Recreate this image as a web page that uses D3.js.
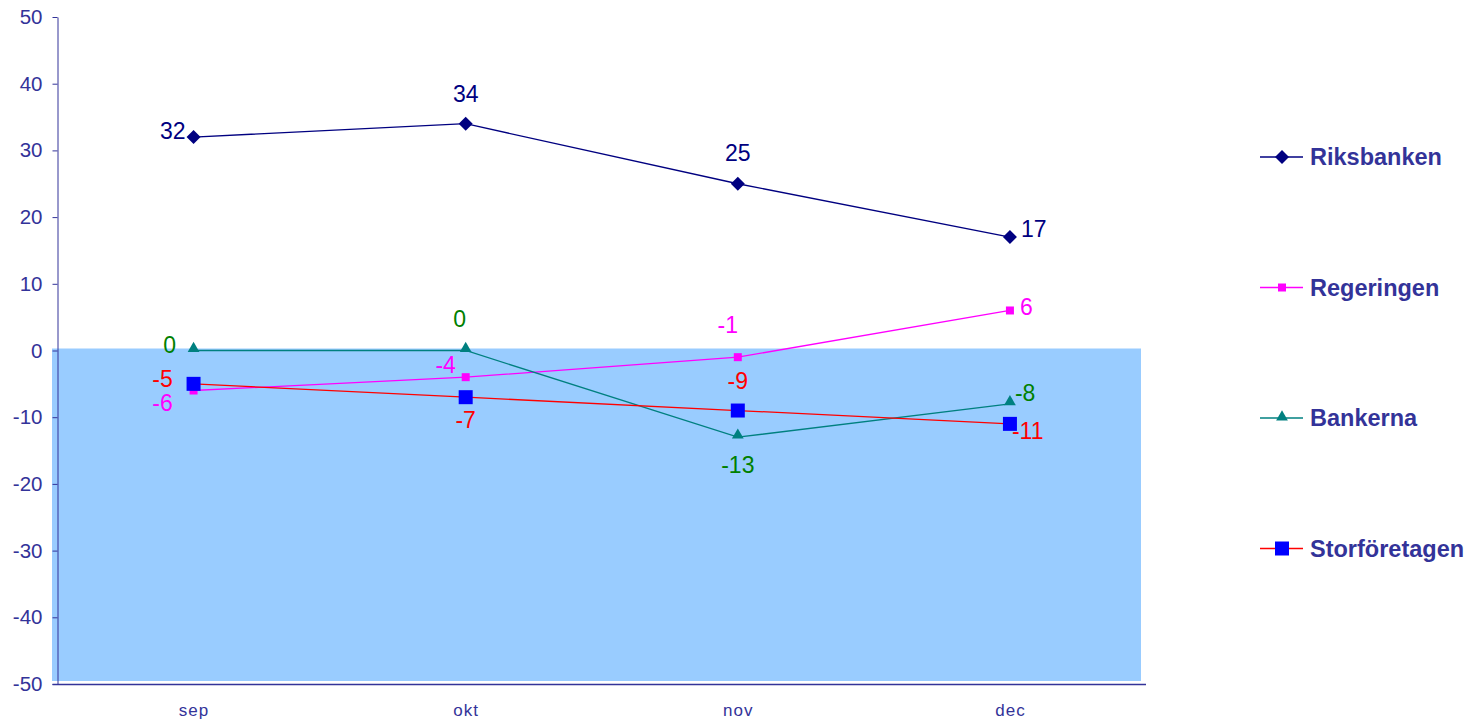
<!DOCTYPE html>
<html>
<head>
<meta charset="utf-8">
<script src="https://cdn.jsdelivr.net/npm/d3@7"></script>
<style>
  body { margin: 0; background: #fff; }
  svg { display: block; font-family: "Liberation Sans", Arial, sans-serif; }
</style>
</head>
<body>
<div id="chart"></div>
<script>
// data
var months = ['sep', 'okt', 'nov', 'dec'];
var seriesNames = ['Riksbanken', 'Regeringen', 'Bankerna', 'Storföretagen'];
var riksbanken = [32, 34, 25, 17];
var regeringen = [-6, -4, -1, 6];
var bankerna = [0, 0, -13, -8];
var storforetagen = [-5, -7, -9, -11];
var yTicks = [50, 40, 30, 20, 10, 0, -10, -20, -30, -40, -50];

(function () {
	'use strict';

	var width = 1469, height = 723;
	var plot = {left: 57.5, right: 1146, top: 17, bottom: 684};

	var svg = d3.select('#chart').append('svg')
		.attr('width', width)
		.attr('height', height);

	var x = d3.scalePoint().domain(months).range([plot.left, plot.right]).padding(0.5);
	var y = d3.scaleLinear().domain([-50, 50]).range([plot.bottom, plot.top]);

	var axisColor = '#333399';

	// shaded negative region
	svg.append('rect')
		.attr('x', plot.left - 5.5)
		.attr('y', y(0) - 2)
		.attr('width', plot.right - 5 - (plot.left - 5.5))
		.attr('height', y(-50) - 3 - (y(0) - 2))
		.attr('fill', '#99ccff');

	// y axis
	var yAxis = svg.append('g')
		.attr('transform', 'translate(' + plot.left + ',0)')
		.call(d3.axisLeft(y).tickValues(yTicks).tickFormat(String)
			.tickSize(5).tickPadding(10).tickSizeOuter(0));
	yAxis.select('.domain').attr('stroke', axisColor);
	yAxis.selectAll('.tick line').attr('stroke', axisColor);
	yAxis.selectAll('.tick text')
		.attr('fill', axisColor)
		.style('font-size', '20.5px');

	// x axis
	var xAxis = svg.append('g')
		.attr('transform', 'translate(0,' + plot.bottom + ')')
		.call(d3.axisBottom(x).tickSize(0).tickPadding(20));
	xAxis.select('.domain')
		.attr('d', 'M' + (plot.left - 5) + ',0.5H' + plot.right)
		.attr('stroke', axisColor)
		.attr('stroke-width', 1.5);
	xAxis.selectAll('.tick text')
		.attr('fill', axisColor)
		.style('font-size', '17px')
		.style('letter-spacing', '1px');

	var diamond = {
		draw: function (ctx, size) {
			var r = Math.sqrt(size / 2);
			ctx.moveTo(0, -r);
			ctx.lineTo(r, 0);
			ctx.lineTo(0, r);
			ctx.lineTo(-r, 0);
			ctx.closePath();
		}
	};

	var series = [
		{name: seriesNames[0], values: riksbanken, line: '#000080', fill: '#000080', label: '#000080',
			symbol: diamond, size: 98, lineWidth: 1.3,
			offsets: [[-8, -6, 'end'], [0, -30, 'middle'], [0, -31, 'middle'], [11, -8, 'start']]},
		{name: seriesNames[1], values: regeringen, line: '#ff00ff', fill: '#ff00ff', label: '#ff00ff',
			symbol: d3.symbolSquare, size: 64, lineWidth: 1.3,
			offsets: [[-31, 12, 'middle'], [-20, -12, 'middle'], [-10, -32, 'middle'], [10, -4, 'start']]},
		{name: seriesNames[2], values: bankerna, line: '#008080', fill: '#008080', label: '#008000',
			symbol: d3.symbolTriangle, size: 60, lineWidth: 1.3,
			offsets: [[-24, -6, 'middle'], [-6, -32, 'middle'], [0, 28, 'middle'], [5, -11, 'start']]},
		{name: seriesNames[3], values: storforetagen, line: '#ff0000', fill: '#0000ff', label: '#ff0000',
			symbol: d3.symbolSquare, size: 196, lineWidth: 1.3,
			offsets: [[-31, -5, 'middle'], [0, 23, 'middle'], [0, -30, 'middle'], [2, 7, 'start']]}
	];

	var line = d3.line()
		.x(function (d, i) { return x(months[i]); })
		.y(function (d) { return y(d); });

	var groups = svg.selectAll('.series')
		.data(series)
		.enter().append('g')
			.attr('class', 'series');

	groups.append('path')
		.attr('d', function (s) { return line(s.values); })
		.attr('fill', 'none')
		.attr('stroke', function (s) { return s.line; })
		.attr('stroke-width', function (s) { return s.lineWidth; });

	groups.each(function (s) {
		var g = d3.select(this);
		g.selectAll('.marker')
			.data(s.values)
			.enter().append('path')
				.attr('class', 'marker')
				.attr('transform', function (d, i) {
					var dy = s.symbol === d3.symbolTriangle ? -2 : 0;
					return 'translate(' + x(months[i]) + ',' + (y(d) + dy) + ')';
				})
				.attr('d', d3.symbol().type(s.symbol).size(s.size))
				.attr('fill', s.fill);

		g.selectAll('.label')
			.data(s.values)
			.enter().append('text')
				.attr('class', 'label')
				.attr('x', function (d, i) { return x(months[i]) + s.offsets[i][0]; })
				.attr('y', function (d, i) { return y(d) + s.offsets[i][1]; })
				.attr('dy', '0.35em')
				.attr('text-anchor', function (d, i) { return s.offsets[i][2]; })
				.attr('fill', s.label)
				.style('font-size', '23px')
				.text(function (d) { return d; });
	});

	// legend
	var legend = svg.selectAll('.legend')
		.data(series)
		.enter().append('g')
			.attr('class', 'legend')
			.attr('transform', function (s, i) { return 'translate(1260,' + (157 + i * 130.5) + ')'; });

	legend.append('line')
		.attr('x1', 0).attr('x2', 43)
		.attr('stroke', function (s) { return s.line; })
		.attr('stroke-width', 1.5);

	legend.append('path')
		.attr('transform', function (s) { return 'translate(22,' + (s.symbol === d3.symbolTriangle ? -1 : 0) + ')'; })
		.attr('d', function (s) { return d3.symbol().type(s.symbol).size(s.size)(); })
		.attr('fill', function (s) { return s.fill; });

	legend.append('text')
		.attr('x', 50)
		.attr('dy', '0.35em')
		.attr('fill', '#333399')
		.style('font-size', '23.5px')
		.style('font-weight', 'bold')
		.text(function (s) { return s.name; });
})();
</script>
</body>
</html>
